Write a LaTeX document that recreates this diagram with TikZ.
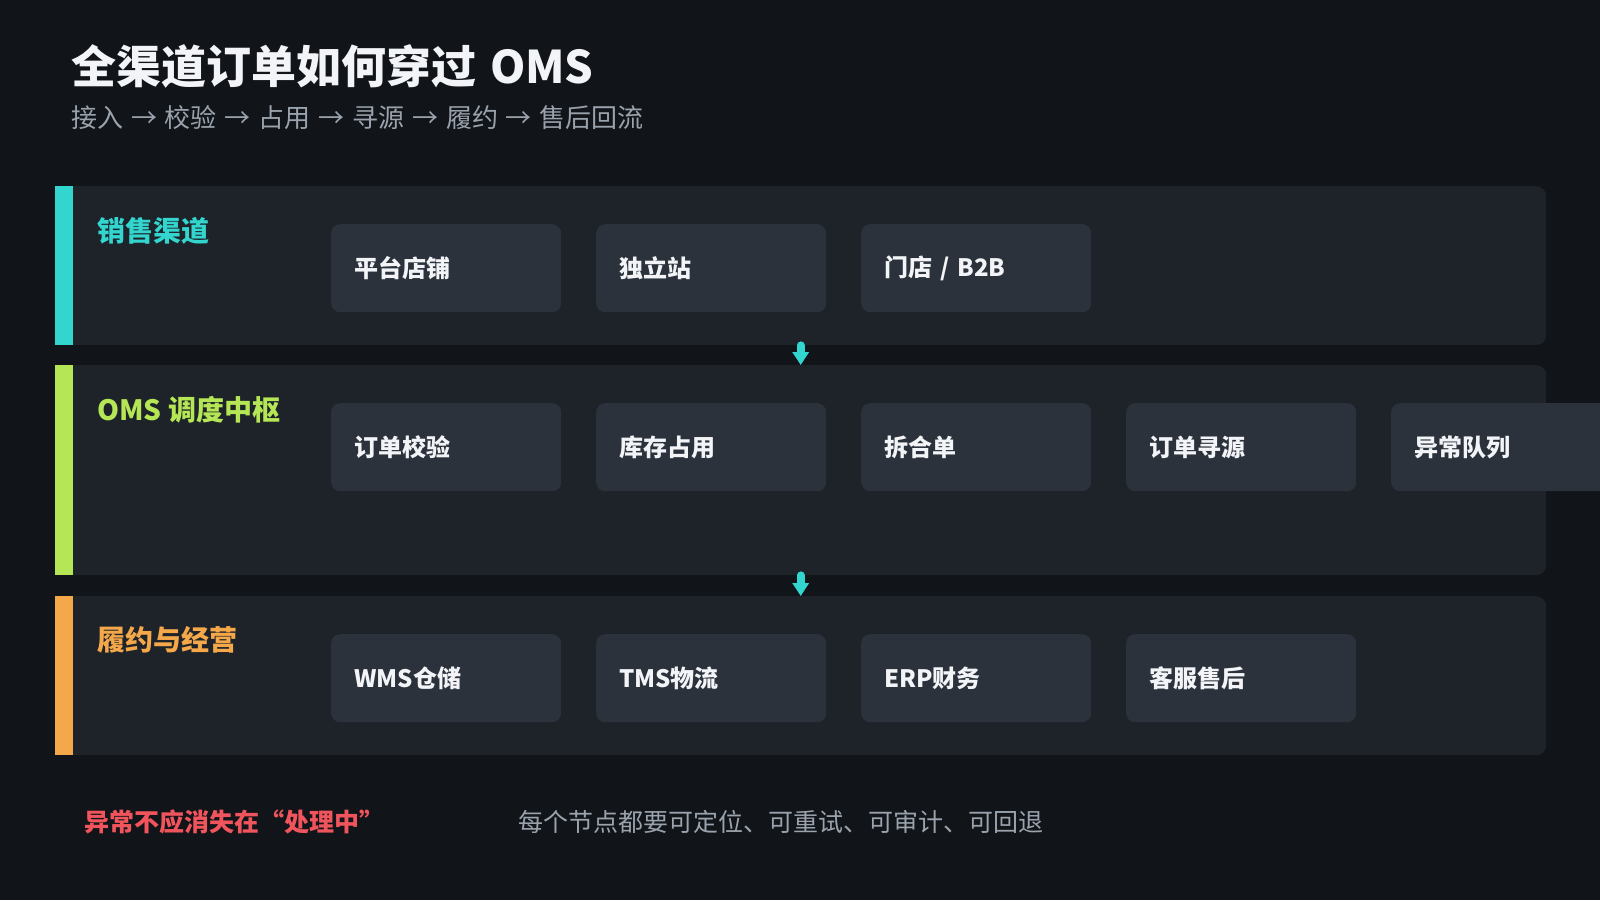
\documentclass[tikz,border=0pt]{standalone}
\usepackage{fontspec}
\setmainfont{Noto Sans CJK SC}
\newfontfamily\headfont{Noto Sans CJK SC}[WordSpace=1.7]
\newfontfamily\subfont{Noto Sans CJK SC}[WordSpace=1.35]
\usetikzlibrary{arrows.meta}

\definecolor{bgcol}{HTML}{111418}
\definecolor{bandcol}{HTML}{1E232A}
\definecolor{cardcol}{HTML}{2B323B}
\definecolor{titlecol}{HTML}{F2F4F7}
\definecolor{subcol}{HTML}{9AA3AD}
\definecolor{chancol}{HTML}{33D6CF}
\definecolor{omscol}{HTML}{B5E655}
\definecolor{fulcol}{HTML}{F5A84A}
\definecolor{warncol}{HTML}{F0545C}

\begin{document}
\begin{tikzpicture}[x=1pt,y=-1pt,
  band/.style={fill=bandcol,rounded corners=10pt,minimum width=1491pt,anchor=north west,inner sep=0pt},
  card/.style={fill=cardcol,rounded corners=9pt,minimum width=230pt,minimum height=88pt,
    text width=184pt,align=left,inner xsep=23pt,inner ysep=0pt,anchor=north west,
    text=titlecol,font=\fontsize{24}{28}\selectfont\bfseries},
  lane/.style={anchor=west,inner sep=0pt,font=\fontsize{28}{32}\selectfont\bfseries},
  flow/.style={draw=chancol,line width=8pt,line cap=round,-{Triangle[width=16pt,length=13pt]}}]
\fill [bgcol] (0,0) rectangle (1600,900);
\useasboundingbox (0,0) rectangle (1600,900);
% heading
\node [anchor=west,inner sep=0pt,text=titlecol,font=\headfont\fontsize{45}{50}\selectfont\bfseries] (title) at (71,66) {全渠道订单如何穿过 OMS};
\node [anchor=west,inner sep=0pt,text=subcol,font=\subfont\fontsize{26}{30}\selectfont] (subtitle) at (71,118) {接入 → 校验 → 占用 → 寻源 → 履约 → 售后回流};
% lanes
\node [band,minimum height=159pt] (chan) at (55,186) {};
\node [band,minimum height=210pt] (oms) at (55,365) {};
\node [band,minimum height=159pt] (ful) at (55,596) {};
\fill [chancol] (chan.north west) rectangle ([xshift=18pt]chan.south west);
\fill [omscol] (oms.north west) rectangle ([xshift=18pt]oms.south west);
\fill [fulcol] (ful.north west) rectangle ([xshift=18pt]ful.south west);
\node [lane,text=chancol] (chanlabel) at (97,231) {销售渠道};
\node [lane,text=omscol] (omslabel) at (97,410) {OMS 调度中枢};
\node [lane,text=fulcol] (fullabel) at (97,640) {履约与经营};
% sales channels
\node [card] (shop) at (331,224) {平台店铺};
\node [card] (site) at (596,224) {独立站};
\node [card] (store) at (861,224) {门店 / B2B};
% oms hub
\node [card] (check) at (331,403) {订单校验};
\node [card] (lock) at (596,403) {库存占用};
\node [card] (split) at (861,403) {拆合单};
\node [card] (route) at (1126,403) {订单寻源};
\node [card] (queue) at (1391,403) {异常队列};
% fulfilment
\node [card] (wms) at (331,634) {WMS仓储};
\node [card] (tms) at (596,634) {TMS物流};
\node [card] (erp) at (861,634) {ERP财务};
\node [card] (care) at (1126,634) {客服售后};
% flow between lanes
\draw [flow] (chan.south) -- (oms.north);
\draw [flow] (oms.south) -- (ful.north);
% footer
\node [anchor=west,inner sep=0pt,text=warncol,font=\fontsize{25}{30}\selectfont\bfseries] (warn) at (84,822) {异常不应消失在“处理中”};
\node [anchor=west,inner sep=0pt,text=subcol,font=\fontsize{25}{30}\selectfont] (rule) at (518,822) {每个节点都要可定位、可重试、可审计、可回退};
\end{tikzpicture}
\end{document}
